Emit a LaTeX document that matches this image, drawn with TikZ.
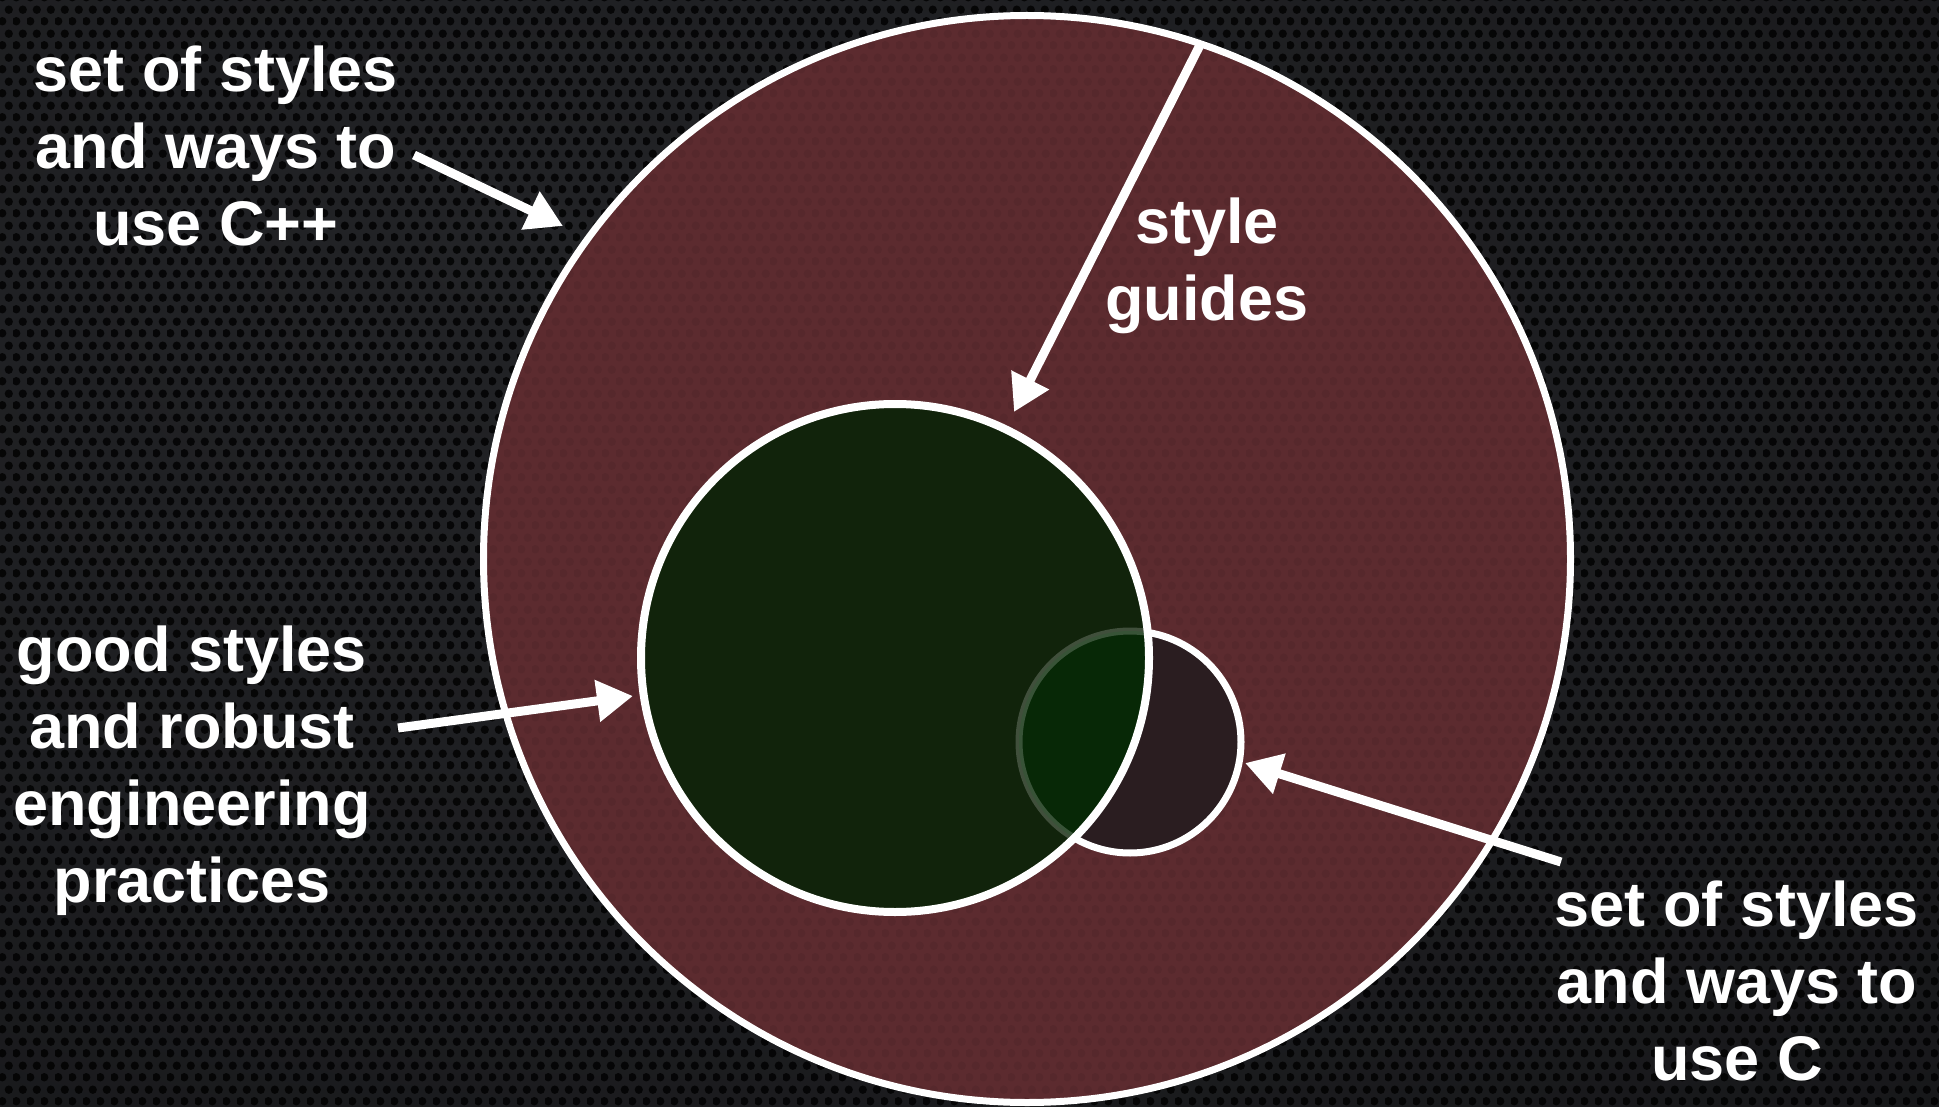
\documentclass[tikz,border=0pt]{standalone}
\usepackage{fontspec}
\setmainfont{Liberation Sans}
\usetikzlibrary{arrows.meta,patterns.meta}

\definecolor{bgin}{HTML}{222326}
\definecolor{bgout}{HTML}{0E0E10}
\definecolor{cppred}{HTML}{5C2B2F}
\definecolor{goodgreen}{HTML}{11230B}
\definecolor{overgreen}{HTML}{072806}
\definecolor{cdark}{HTML}{2A1D20}

\pgfdeclareradialshading{bgshade}{\pgfpoint{-12bp}{14bp}}{color(0bp)=(bgin); color(25bp)=(bgin!75!bgout); color(70bp)=(bgout)}

\pgfdeclarepattern{
  name=holes, type=uncolored,
  bottom left={\pgfpoint{0pt}{0pt}},
  top right={\pgfpoint{14pt}{24pt}},
  tile size={\pgfpoint{14pt}{24pt}},
  code={\pgfpathcircle{\pgfpoint{3.5pt}{6pt}}{4.4pt}%
        \pgfpathcircle{\pgfpoint{10.5pt}{18pt}}{4.4pt}%
        \pgfusepath{fill}}
}

\tikzset{
  ring/.style={circle, inner sep=0pt, draw=white},
  lbl/.style={text=white, font=\fontsize{63}{77}\selectfont\bfseries, align=center, inner sep=0pt},
  arr/.style={draw=white, line width=9pt, -{Triangle[length=36pt,width=40pt]}}
}

\begin{document}
\begin{tikzpicture}[x=1pt, y=-1pt]
\useasboundingbox (0,0) rectangle (1939,1107);
% background
\shade[shading=bgshade] (0,0) rectangle (1939,1107);
\fill[pattern=holes, pattern color=black, fill opacity=0.8] (0,0) rectangle (1939,1107);

% big circle: set of styles and ways to use C++
\node[ring, fill=cppred, line width=7pt, minimum size=1087pt] (cpp) at (1027,559) {};
\fill[pattern=holes, pattern color=black, fill opacity=0.06] (cpp.center) circle[radius=540];

% small circle: C
\node[ring, fill=cdark, line width=7pt, minimum size=222pt] (cc) at (1130,742) {};

% green circle: good styles
\node[circle, inner sep=0pt, fill=goodgreen, minimum size=508pt] (good) at (895,658) {};
\begin{scope}
  \clip (good.center) circle[radius=254];
  \fill[overgreen] (cc.center) circle[radius=111];
  \draw[white, opacity=0.2, line width=7pt] (cc.center) circle[radius=111];
\end{scope}
\draw[white, line width=8pt] (good.center) circle[radius=254];

% labels
\node[lbl] (cppLbl) at (216,146) {set of styles\\and ways to\\use C++};
\node[lbl] (guideLbl) at (1207,266) {style\\guides};
\node[lbl] (goodLbl) at (192,771) {good styles\\and robust\\engineering\\practices};
\node[lbl] (cLbl) at (1737,981) {set of styles\\and ways to\\use C};

% arrow end points
\coordinate (cppTail) at (414,155);
\coordinate (cppTip) at (563,226);
\coordinate (guideTail) at (1200,45);
\coordinate (guideTip) at (1014,412);
\coordinate (goodTail) at (398,728);
\coordinate (goodTip) at (633,696);
\coordinate (cTail) at (1561,862);
\coordinate (cTip) at (1245,763);

\draw[arr] (cppTail) -- (cppTip);
\draw[arr] (guideTail) -- (guideTip);
\draw[arr] (goodTail) -- (goodTip);
\draw[arr] (cTail) -- (cTip);
\end{tikzpicture}
\end{document}
